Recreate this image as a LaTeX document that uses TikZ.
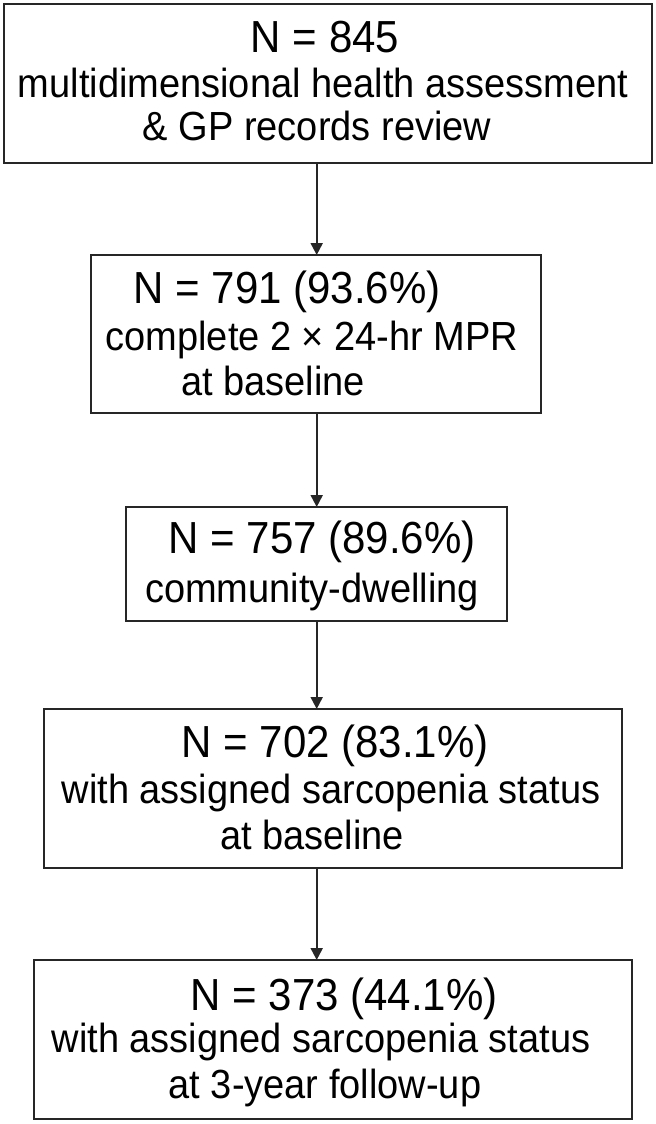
\documentclass[tikz,border=0pt]{standalone}
\usepackage{graphicx}
\usepackage{fontspec}
\setmainfont{Liberation Sans}
\usetikzlibrary{arrows.meta}
\newcommand{\tall}[1]{\scalebox{1}[1.07]{#1}}
\tikzset{
  box/.style={draw=black!85, line width=1pt, inner sep=0pt, outer sep=0pt},
  txt/.style={inner sep=0pt, anchor=base, font=\fontsize{19}{22}\selectfont},
  head/.style={txt, font=\fontsize{21}{24}\selectfont},
  flow/.style={draw=black!85, line width=1pt, -{Triangle[length=6pt,width=6pt]}}
}

\begin{document}
\begin{tikzpicture}[x=0.5pt, y=-0.5pt]
        \useasboundingbox (0,0) rectangle (656,1124);
        %\draw[help lines] (0,0) grid[step=50] (656,1124);
        % boxes
        \node[box, minimum width=324pt, minimum height=79.5pt] (all)    at (328,83.5)    {};
        \node[box, minimum width=225pt, minimum height=79pt]   (mpr)    at (316,334)     {};
        \node[box, minimum width=190.5pt, minimum height=57pt] (comm)   at (316.5,564)   {};
        \node[box, minimum width=289pt, minimum height=79.5pt] (base)   at (333,788.5)   {};
        \node[box, minimum width=299pt, minimum height=79.5pt] (follow) at (332.5,1039.5) {};
        % texts
        \node[head] (all1) at (325,52)  {\tall{N = 845}};
        \node[txt]  (all2) at (323,97)  {\tall{multidimensional health assessment}};
        \node[txt]  (all3) at (317,140) {\tall{\& GP records review}};
        \node[head] (mpr1) at (287,303) {\tall{N = 791 (93.6\%)}};
        \node[txt]  (mpr2) at (312,350) {\tall{complete 2 × 24-hr MPR}};
        \node[txt]  (mpr3) at (273,395) {\tall{at baseline}};
        \node[head] (comm1) at (322,553) {\tall{N = 757 (89.6\%)}};
        \node[txt]  (comm2) at (312,602) {\tall{community-dwelling}};
        \node[head] (base1) at (335,757) {\tall{N = 702 (83.1\%)}};
        \node[txt]  (base2) at (331,803) {\tall{with assigned sarcopenia status}};
        \node[txt]  (base3) at (312,849) {\tall{at baseline}};
        \node[head] (follow1) at (344,1010) {\tall{N = 373 (44.1\%)}};
        \node[txt]  (follow2) at (321,1052) {\tall{with assigned sarcopenia status}};
        \node[txt]  (follow3) at (325,1098) {\tall{at 3-year follow-up}};
        % arrows
        \coordinate (ax) at (316.7,0);
        \draw[flow] (all.south -| ax)  -- (mpr.north -| ax);
        \draw[flow] (mpr.south -| ax)  -- (comm.north -| ax);
        \draw[flow] (comm.south -| ax) -- (base.north -| ax);
        \draw[flow] (base.south -| ax) -- (follow.north -| ax);
\end{tikzpicture}
\end{document}
